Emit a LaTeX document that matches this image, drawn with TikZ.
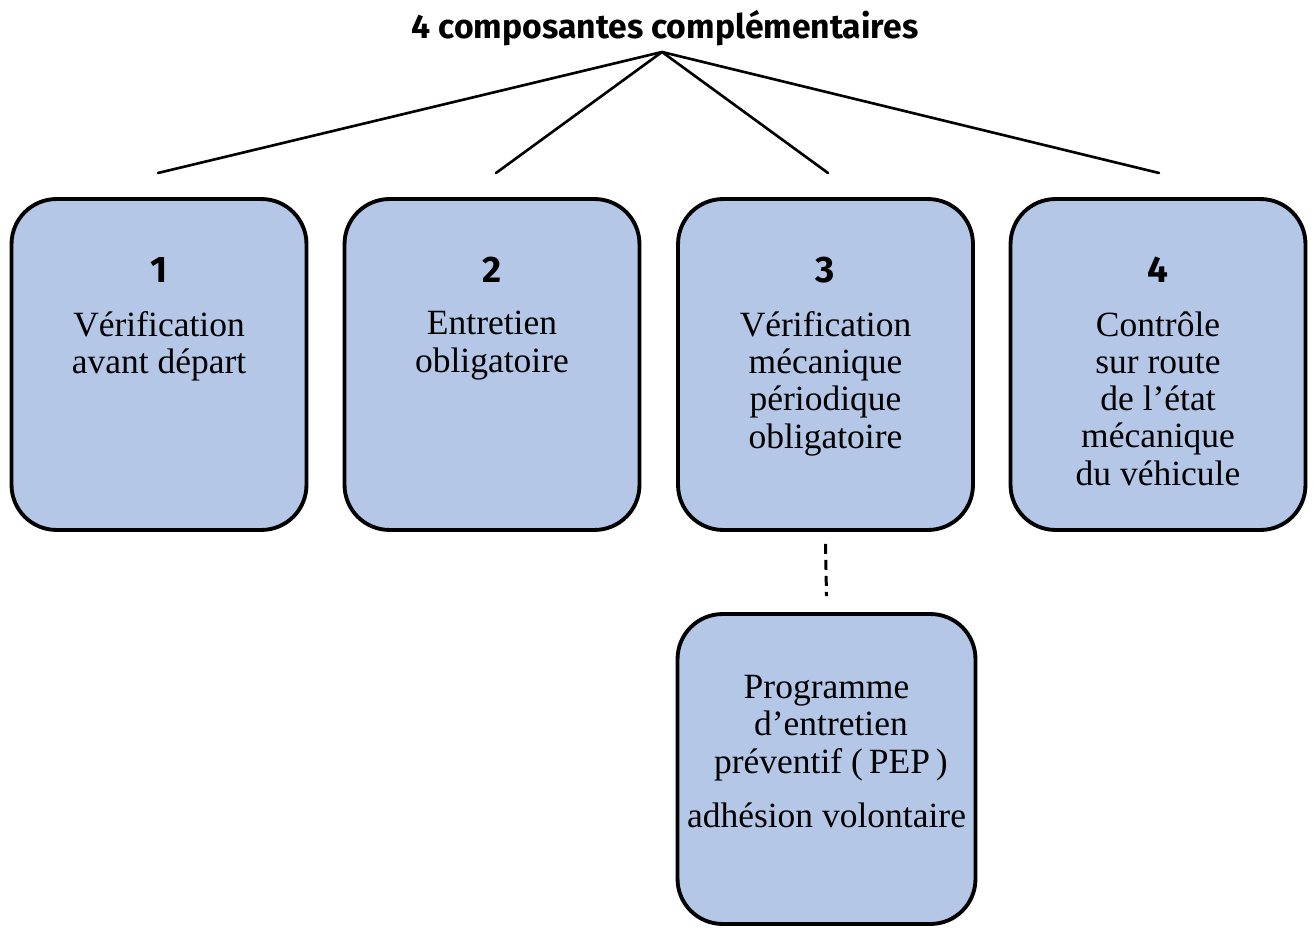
\documentclass[tikz,border=0pt]{standalone}
\usepackage{fontspec}
\setmainfont{Liberation Serif}
\setsansfont{Fira Sans}
\usetikzlibrary{positioning}
\definecolor{boxblue}{RGB}{180,199,231}
\begin{document}
\begin{tikzpicture}[x=0.02cm,y=-0.02cm,line cap=round,line join=round,
  bloc/.style={draw=black,line width=2.2pt,fill=boxblue,rounded corners=0.9cm,minimum width=5.9cm,minimum height=6.62cm,inner sep=0pt},
  num/.style={font=\sffamily\bfseries\fontsize{21}{24}\selectfont,inner sep=0pt},
  lbl/.style={font=\fontsize{20.2}{21.2}\selectfont,align=center,inner sep=0pt,anchor=north},
  branche/.style={line width=1.5pt}]
\useasboundingbox (0,0) rectangle (1314,928);
\node[font=\sffamily\bfseries\fontsize{19.2}{22}\selectfont,inner sep=0pt] (titre) at (665,28) {4 composantes complémentaires};
\coordinate (sommet) at (662,52);
\coordinate (e1) at (158,173);
\coordinate (e2) at (496,173);
\coordinate (e3) at (828,173);
\coordinate (e4) at (1159,173);
\draw[branche] (sommet) -- (e1);
\draw[branche] (sommet) -- (e2);
\draw[branche] (sommet) -- (e3);
\draw[branche] (sommet) -- (e4);
\node[bloc] (b1) at (159,364.5) {};
\node[bloc] (b2) at (492,364.5) {};
\node[bloc] (b3) at (825.5,364.5) {};
\node[bloc] (b4) at (1158,364.5) {};
\node[bloc,minimum width=5.96cm,minimum height=6.2cm] (b5) at (826.5,769) {};
\draw[line width=1.7pt,line cap=butt,dash pattern=on 0.2cm off 0.12cm] ([yshift=-0.24cm]b3.south) -- ([yshift=0.32cm]b5.north);
\node[num] (n1) at (159,270) {1};
\node[num] (n2) at (492,270) {2};
\node[num] (n3) at (825.5,270) {3};
\node[num] (n4) at (1158,270) {4};
\node[lbl] (t1) at (159,311) {Vérification\\avant départ};
\node[lbl] (t2) at (492,311) {Entretien\\obligatoire};
\node[lbl] (t3) at (825.5,311) {Vérification\\mécanique\\périodique\\obligatoire};
\node[lbl] (t4) at (1158,311) {Contrôle\\sur route\\de l’état\\mécanique\\du véhicule};
\node[lbl] (t5) at (826.5,675) {Programme\\ \ d’entretien\\ \ préventif (\,PEP\,)\\[10pt]adhésion volontaire};
\end{tikzpicture}
\end{document}
